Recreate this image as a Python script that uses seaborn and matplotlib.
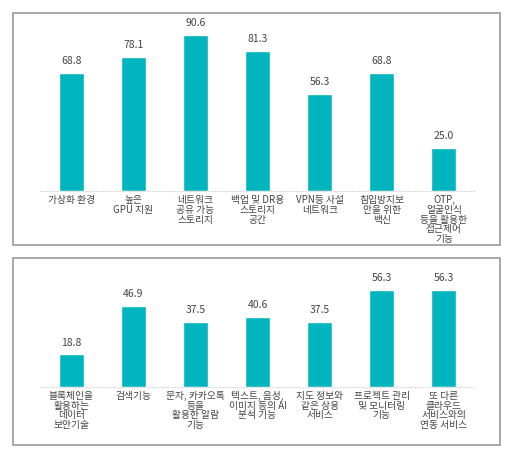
import matplotlib
matplotlib.use('Agg')
import matplotlib.pyplot as plt
import seaborn as sns
import pandas as pd
from matplotlib.patches import Rectangle

top_labels = ['가상화 환경', '높은\nGPU 지원', '네트워크\n공유 가능\n스토리지', '백업 및 DR용\n스토리지\n공간',
              'VPN등 사설\n네트워크', '침입방지보\n안을 위한\n백신', 'OTP,\n얼굴인식\n등을 활용한\n접근제어\n기능']
top_values = [68.8, 78.1, 90.6, 81.3, 56.3, 68.8, 25.0]

bottom_labels = ['블록체인을\n활용하는\n데이터\n보안기술', '검색기능', '문자, 카카오톡\n등을\n활용한 알람\n기능',
                 '텍스트, 음성,\n이미지 등의 AI\n분석 기능', '지도 정보와\n같은 상용\n서비스', '프로젝트 관리\n및 모니터링\n기능',
                 '또 다른\n클라우드\n서비스와의\n연동 서비스']
bottom_values = [18.8, 46.9, 37.5, 40.6, 37.5, 56.3, 56.3]

sns.set_style('white')
plt.rcParams['font.family'] = ['Noto Sans CJK KR', 'DejaVu Sans']

fig = plt.figure(figsize=(5.08, 4.53), dpi=100)
color = '#00B5BD'

for (y0, h) in [(0.459, 0.512), (0.018, 0.413)]:
    fig.patches.append(Rectangle((0.026, y0), 0.959, h, transform=fig.transFigure,
                                 fill=False, edgecolor='#999999', linewidth=1.2))

ax1 = fig.add_axes([0.079, 0.578, 0.856, 0.380])
ax2 = fig.add_axes([0.079, 0.146, 0.856, 0.247])

for ax, labels, values, ymax in [(ax1, top_labels, top_values, 100), (ax2, bottom_labels, bottom_values, 65)]:
    df = pd.DataFrame({'label': labels, 'value': values})
    sns.barplot(data=df, x='label', y='value', color=color, width=0.4, saturation=1, ax=ax)
    ax.set_ylim(0, ymax)
    ax.set_xlabel('')
    ax.set_ylabel('')
    ax.set_yticks([])
    for s in ['top', 'left', 'right']:
        ax.spines[s].set_visible(False)
    ax.spines['bottom'].set_color('#dddddd')
    ax.spines['bottom'].set_linestyle(':')
    ax.tick_params(axis='x', length=0, labelsize=7, colors='#444444', pad=3)
    for lbl in ax.get_xticklabels():
        lbl.set_linespacing(0.95)
    for i, v in enumerate(values):
        ax.text(i, v + 4, f'{v:.1f}', ha='center', va='bottom', fontsize=7.5, color='#444444', clip_on=False)

fig.savefig('out.png', dpi=100)
